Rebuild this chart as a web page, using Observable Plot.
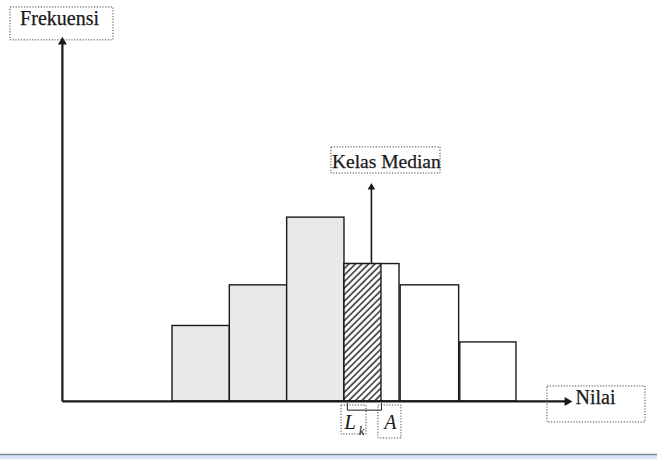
<!DOCTYPE html>
<html>
<head>
<meta charset="utf-8">
<script src="https://cdn.jsdelivr.net/npm/d3@7"></script>
<script src="https://cdn.jsdelivr.net/npm/@observablehq/plot@0.6"></script>
<style>
  html, body { margin: 0; padding: 0; background: #fff; }
  #chart svg { display: block; }
</style>
</head>
<body>
<div id="chart"></div>
<script>
// ---- data (class units on x, frequency units on y) ----
const classLower = [0, 1, 2, 3, 3.98, 5.02];
const classUpper = [1, 2, 3, 3.96, 5, 6];
const frekuensi  = [3.9, 6, 9.5, 7.1, 6, 3.05];
const medianIndex = 3;
const medianHatchEnd = 3.645;       // L_k .. L_k + part of class
const medianArrowX = 3.47;
const medianArrowTop = 11.27;
const axisOriginX = -1.92;
const yAxisTop = 18.86;
const xAxisEnd = 6.98;

const labels = {
  yTitle: "Frekuensi",
  xTitle: "Nilai",
  median: "Kelas Median",
  lk: "L",
  lkSub: "k",
  a: "A"
};

const bars = classLower.map((lo, i) => ({lo, hi: classUpper[i], f: frekuensi[i], i}));

// dotted label boxes [x1, x2, y1, y2]
const boxes = [
  {x1: -2.826, x2: -1.029, y1: 18.66, y2: 20.36},
  {x1: 2.773, x2: 4.675, y1: 11.78, y2: 13.13},
  {x1: 6.54, x2: 8.25, y1: -1.085, y2: 0.775},
  {x1: 2.948, x2: 3.384, y1: -1.705, y2: -0.207},
  {x1: 3.593, x2: 3.994, y1: -1.912, y2: -0.207}
];

const ink = "#1a1a1a";
const serif = "Liberation Serif, Times New Roman, serif";

const chart = Plot.plot({
  width: 657,
  height: 459,
  margin: 0,
  x: {domain: [-3, 8.46], range: [0, 657], axis: null},
  y: {domain: [-3, 20.72], range: [459, 0], axis: null},
  style: {background: "#fff", fontFamily: serif},
  marks: [
    // window strip at the bottom of the screenshot
    Plot.rect([0], {x1: -3, x2: 8.46, y1: -3, y2: -2.76, fill: "#d4e3f6"}),
    Plot.ruleY([-2.74], {x1: -3, x2: 8.46, stroke: "#7d8a99", strokeWidth: 1.5}),
    // histogram bars
    Plot.rect(bars, {
      x1: "lo", x2: "hi", y1: 0, y2: "f",
      fill: d => d.i < medianIndex ? "#e9e9e9" : "#ffffff",
      stroke: ink, strokeWidth: 1.4
    }),
    // hatched part of the median class
    Plot.rect([bars[medianIndex]], {
      x1: "lo", x2: () => medianHatchEnd, y1: 0, y2: "f",
      fill: "url(#hatch)", stroke: ink, strokeWidth: 1.4
    }),
    // median arrow
    Plot.link([0], {x1: medianArrowX, x2: medianArrowX, y1: frekuensi[medianIndex], y2: medianArrowTop - 0.25, stroke: ink, strokeWidth: 1.6}),
    Plot.dot([0], {x: medianArrowX, y: medianArrowTop - 0.2, symbol: "triangle", r: 2.8, fill: ink, stroke: "none"}),
    // axes
    Plot.link([0], {x1: axisOriginX, x2: axisOriginX, y1: 0, y2: yAxisTop - 0.3, stroke: ink, strokeWidth: 2.2}),
    Plot.dot([0], {x: axisOriginX, y: yAxisTop - 0.28, symbol: "triangle", r: 3.3, fill: ink, stroke: "none"}),
    Plot.link([0], {x1: axisOriginX, x2: xAxisEnd - 0.1, y1: 0, y2: 0, stroke: ink, strokeWidth: 2.2}),
    Plot.dot([0], {x: xAxisEnd - 0.095, y: 0, symbol: "triangle", rotate: 90, r: 3.3, fill: ink, stroke: "none"}),
    // bracket under hatched part
    Plot.line([[3.05, -0.1], [3.05, -0.45], [3.645, -0.45], [3.645, -0.1]], {x: d => d[0], y: d => d[1], stroke: ink, strokeWidth: 1}),
    // dotted label boxes
    Plot.rect(boxes, {x1: "x1", x2: "x2", y1: "y1", y2: "y2", fill: "none", stroke: "#444", strokeWidth: 1, strokeDasharray: "1.2,1.6"}),
    // labels
    Plot.text([labels.yTitle], {x: -1.97, y: (401 - 25) / 19.35, text: d => d, fontSize: 20, textAnchor: "middle", lineAnchor: "bottom", fill: ink, stroke: ink, strokeWidth: 0.25}),
    Plot.text([labels.median], {x: 3.73, y: (401 - 168) / 19.35, text: d => d, fontSize: 19.5, textAnchor: "middle", lineAnchor: "bottom", fill: ink, stroke: ink, strokeWidth: 0.25}),
    Plot.text([labels.xTitle], {x: 7.03, y: (401 - 404) / 19.35, text: d => d, fontSize: 20, textAnchor: "start", lineAnchor: "bottom", fill: ink, stroke: ink, strokeWidth: 0.25}),
    Plot.text([labels.lk], {x: 3.1, y: (401 - 429) / 19.35, text: d => d, fontSize: 21, fontStyle: "italic", textAnchor: "middle", lineAnchor: "bottom", fill: ink}),
    Plot.text([labels.lkSub], {x: 3.3, y: (401 - 435) / 19.35, text: d => d, fontSize: 13, fontStyle: "italic", textAnchor: "middle", lineAnchor: "bottom", fill: ink}),
    Plot.text([labels.a], {x: 3.8, y: (401 - 429) / 19.35, text: d => d, fontSize: 20, fontStyle: "italic", textAnchor: "middle", lineAnchor: "bottom", fill: ink})
  ]
});

// hatch pattern definition
const ns = "http://www.w3.org/2000/svg";
const defs = document.createElementNS(ns, "defs");
const pat = document.createElementNS(ns, "pattern");
pat.setAttribute("id", "hatch");
pat.setAttribute("patternUnits", "userSpaceOnUse");
pat.setAttribute("width", "4.6");
pat.setAttribute("height", "4.6");
pat.setAttribute("patternTransform", "rotate(45)");
const bg = document.createElementNS(ns, "rect");
bg.setAttribute("width", "4.6"); bg.setAttribute("height", "4.6"); bg.setAttribute("fill", "#fff");
const ln = document.createElementNS(ns, "line");
ln.setAttribute("x1", "1"); ln.setAttribute("y1", "0"); ln.setAttribute("x2", "1"); ln.setAttribute("y2", "4.6");
ln.setAttribute("stroke", "#444"); ln.setAttribute("stroke-width", "1.7");
pat.appendChild(bg); pat.appendChild(ln); defs.appendChild(pat);
chart.insertBefore(defs, chart.firstChild);

document.getElementById("chart").appendChild(chart);
</script>
</body>
</html>
